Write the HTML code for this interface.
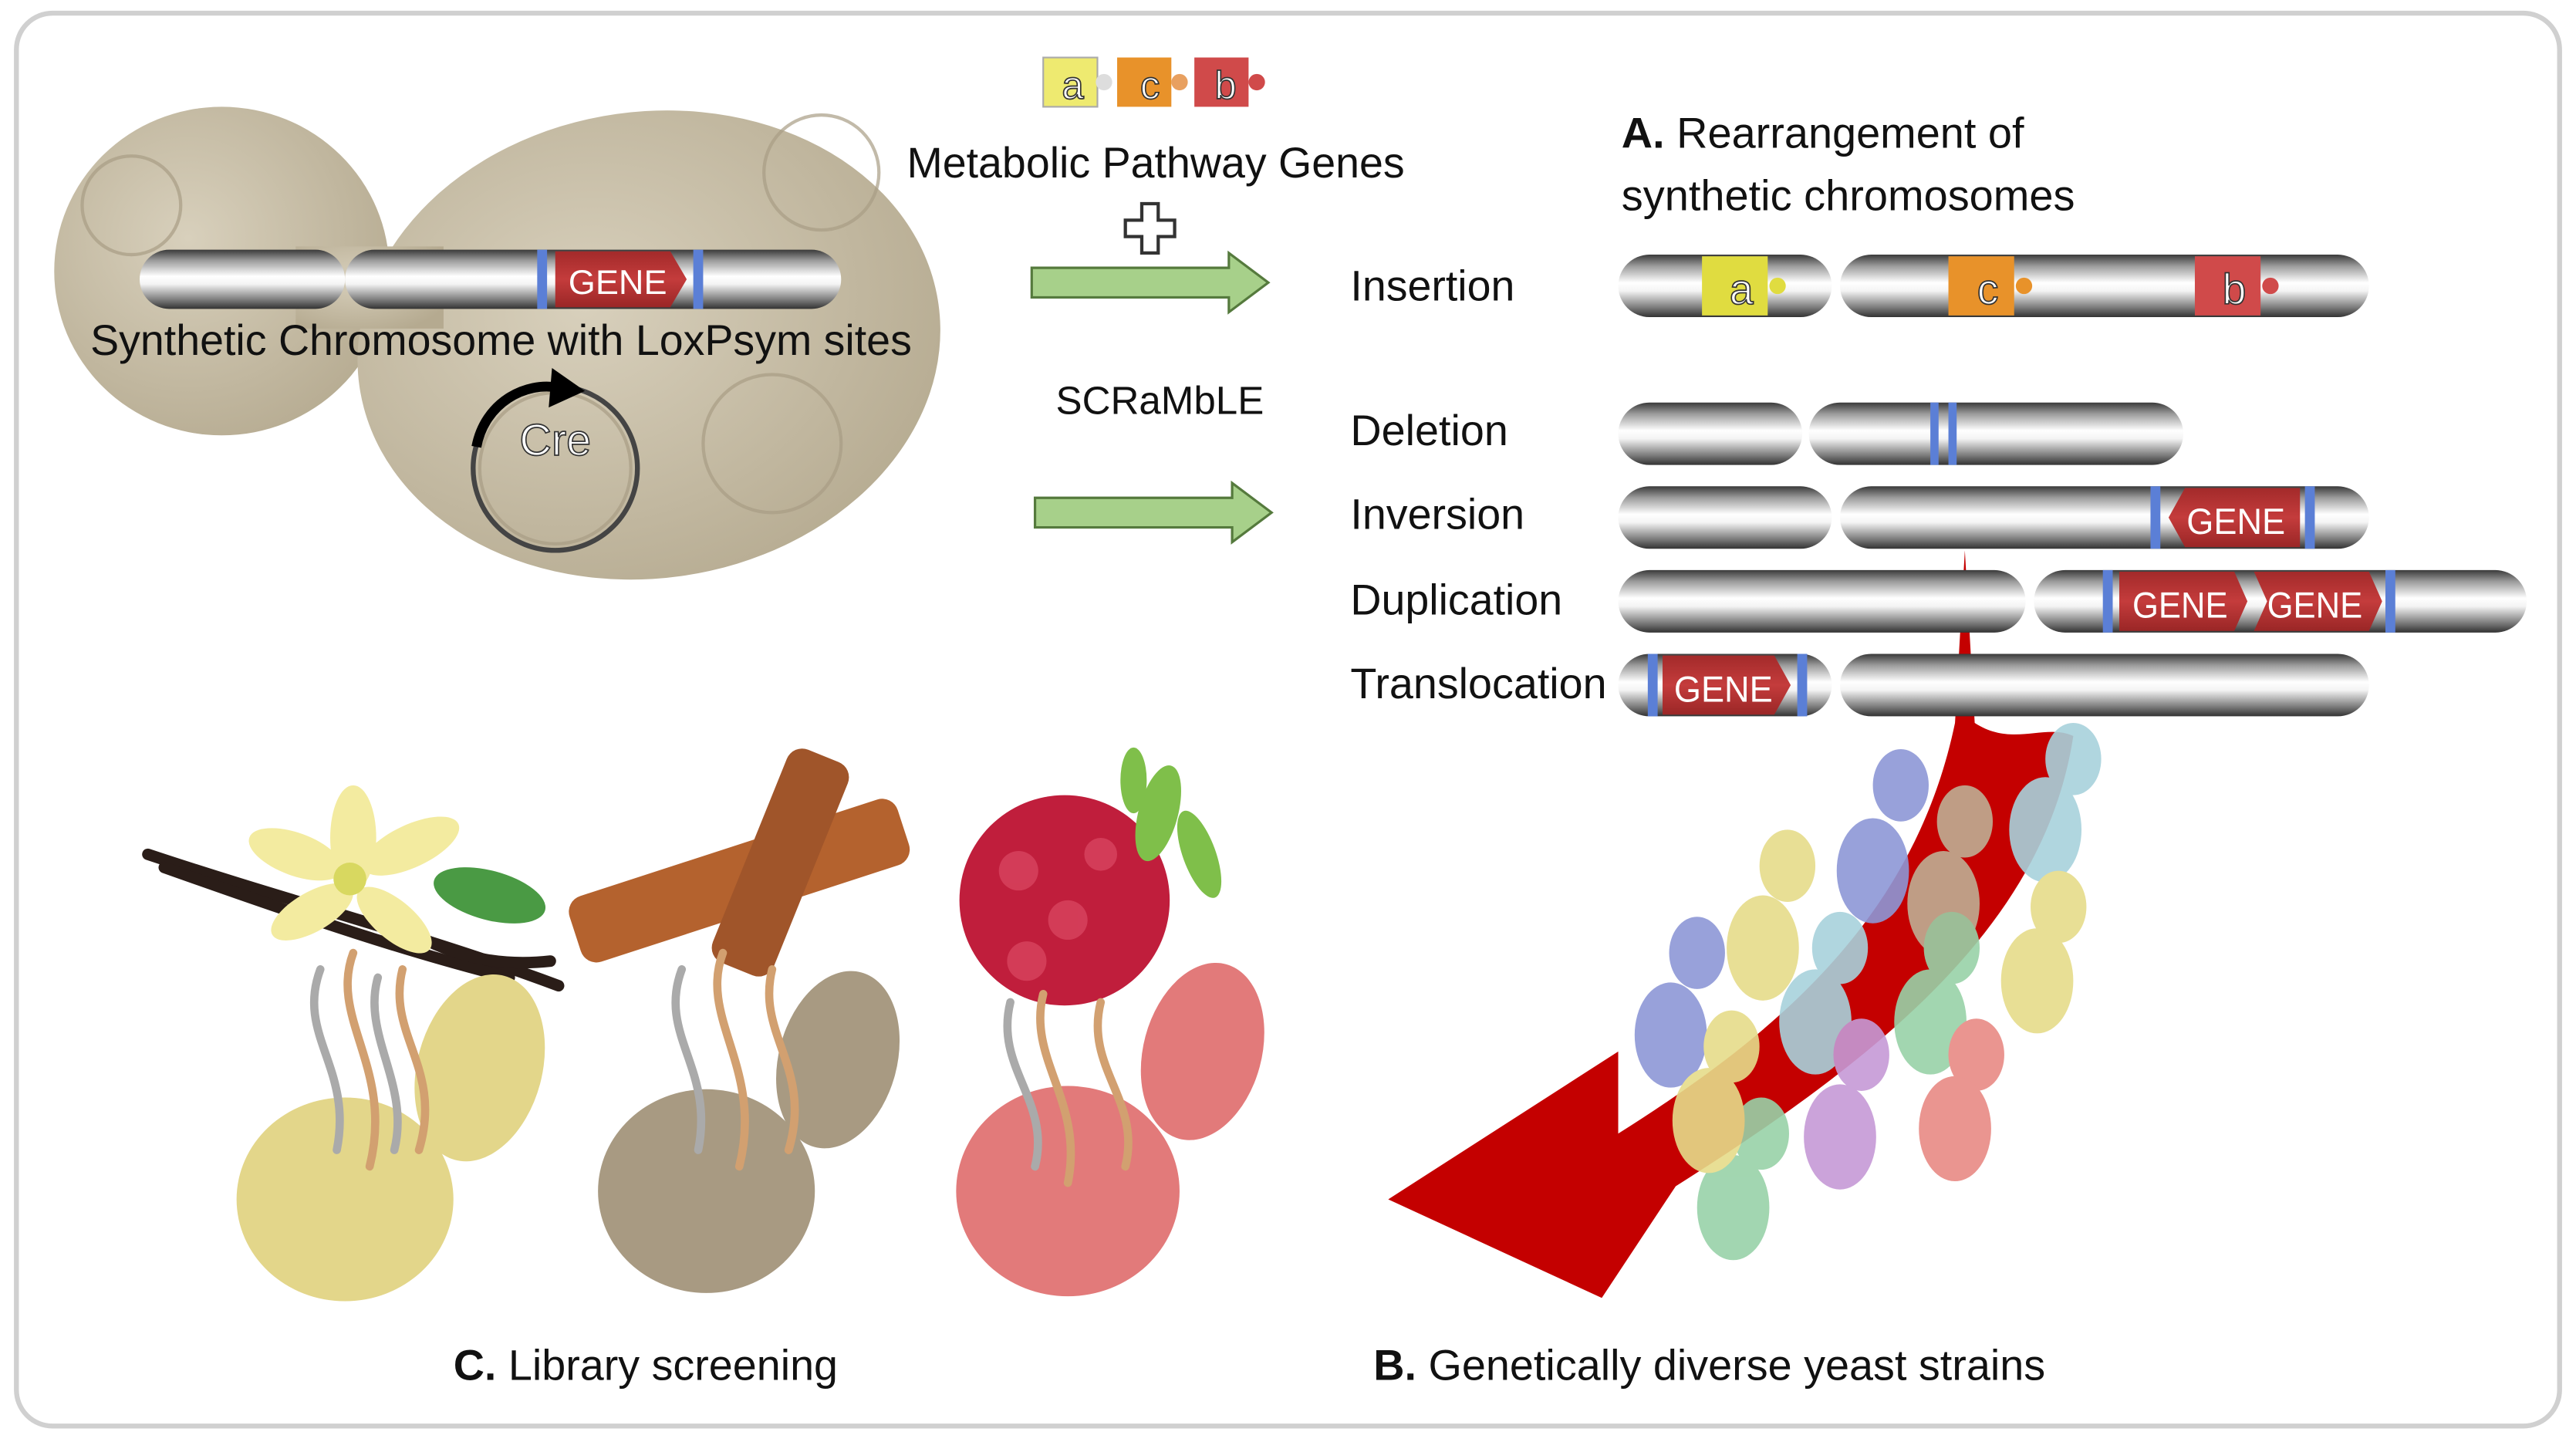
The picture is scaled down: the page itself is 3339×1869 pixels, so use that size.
<!DOCTYPE html>
<html><head><meta charset="utf-8"><style>
html,body{margin:0;padding:0;background:#fff;}
svg{display:block;}
text{font-family:"Liberation Sans",sans-serif;}
</style></head><body>
<svg width="3339" height="1869" viewBox="0 0 1568 877.7" preserveAspectRatio="none" xmlns="http://www.w3.org/2000/svg">
<defs>
<linearGradient id="chr" x1="0" y1="0" x2="0" y2="1">
<stop offset="0" stop-color="#3a3a3a"/><stop offset="0.18" stop-color="#9a9a9a"/>
<stop offset="0.45" stop-color="#ffffff"/><stop offset="0.58" stop-color="#f4f4f4"/>
<stop offset="0.85" stop-color="#7a7a7a"/><stop offset="1" stop-color="#333"/>
</linearGradient>
<linearGradient id="red" x1="0" y1="0" x2="0" y2="1">
<stop offset="0" stop-color="#a32a2a"/><stop offset="0.5" stop-color="#c43c3c"/><stop offset="1" stop-color="#9a2626"/>
</linearGradient>
<radialGradient id="yb" cx="0.4" cy="0.4" r="0.7"><stop offset="0" stop-color="#d8d0bc"/><stop offset="1" stop-color="#b5aa90"/></radialGradient>
</defs>
<rect x="0" y="0" width="1568" height="877.7" fill="#fff"/>
<rect x="10" y="8" width="1548" height="860" rx="22" fill="#fff" stroke="#d0d0d0" stroke-width="3"/>

<g fill="url(#yb)">
<ellipse cx="135" cy="165" rx="102" ry="100"/>
<ellipse cx="395" cy="210" rx="178" ry="142" transform="rotate(-8 395 210)"/>
<rect x="180" y="150" width="90" height="50"/>
</g>
<g fill="none" stroke="#a89d84" stroke-width="2" opacity="0.7">
<circle cx="500" cy="105" r="35"/><circle cx="470" cy="270" r="42"/><circle cx="338" cy="285" r="46"/><circle cx="80" cy="125" r="30"/>
</g>
<rect x="85" y="152" width="125" height="36" rx="18" fill="url(#chr)"/>
<rect x="210" y="152" width="302" height="36" rx="18" fill="url(#chr)"/>
<rect x="327" y="152" width="6" height="36" fill="#5b7fd6"/><rect x="422" y="152" width="6" height="36" fill="#5b7fd6"/>
<polygon points="338,153 408,153 418,170 408,187 338,187" fill="url(#red)"/>
<text x="346" y="179" font-size="21" fill="#fff" textLength="60" lengthAdjust="spacingAndGlyphs">GENE</text>
<text x="55" y="216" font-size="26" fill="#111" textLength="500" lengthAdjust="spacingAndGlyphs">Synthetic Chromosome with LoxPsym sites</text>
<circle cx="338" cy="285" r="50" fill="none" stroke="#444" stroke-width="3"/>
<path d="M290,272 C295,245 320,232 340,236" fill="none" stroke="#000" stroke-width="6"/>
<polygon points="336,224 356,238 334,248" fill="#000"/>
<text x="338" y="277" font-size="27" fill="#fff" stroke="#333" stroke-width="0.8" text-anchor="middle">Cre</text>

<rect x="635" y="35" width="33" height="30" fill="#eeea70" stroke="#aaa"/>
<rect x="680" y="35" width="33" height="30" fill="#e8922a"/>
<rect x="727" y="35" width="33" height="30" fill="#d04a4a"/>
<circle cx="672" cy="50" r="5" fill="#ddd"/><circle cx="718" cy="50" r="5" fill="#e8a060"/><circle cx="765" cy="50" r="5" fill="#d04a4a"/>
<text x="653" y="60" font-size="24" fill="#fff" stroke="#333" stroke-width="0.8" text-anchor="middle">a</text>
<text x="700" y="60" font-size="24" fill="#fff" stroke="#333" stroke-width="0.8" text-anchor="middle">c</text>
<text x="746" y="60" font-size="24" fill="#fff" stroke="#333" stroke-width="0.8" text-anchor="middle">b</text>
<text x="552" y="108" font-size="26" fill="#111" textLength="303" lengthAdjust="spacingAndGlyphs">Metabolic Pathway Genes</text>
<path d="M695,124 h10 v10 h10 v10 h-10 v10 h-10 v-10 h-10 v-10 h10 z" fill="#fff" stroke="#333" stroke-width="2"/>
<text x="706" y="252" font-size="24" fill="#111" text-anchor="middle">SCRaMbLE</text>
<polygon points="628,163 748,163 748,154 772,172 748,190 748,181 628,181" fill="#a7d08a" stroke="#557a3d" stroke-width="1.5"/>
<polygon points="630,303 750,303 750,294 774,312 750,330 750,321 630,321" fill="#a7d08a" stroke="#557a3d" stroke-width="1.5"/>

<text x="987" y="90" font-size="26" fill="#111" textLength="245" lengthAdjust="spacingAndGlyphs"><tspan font-weight="bold">A.</tspan> Rearrangement of</text>
<text x="987" y="128" font-size="26" fill="#111" textLength="276" lengthAdjust="spacingAndGlyphs">synthetic chromosomes</text>
<g font-size="26" fill="#111">
<text x="822" y="183" textLength="100" lengthAdjust="spacingAndGlyphs">Insertion</text>
<text x="822" y="271" textLength="96" lengthAdjust="spacingAndGlyphs">Deletion</text>
<text x="822" y="322" textLength="106" lengthAdjust="spacingAndGlyphs">Inversion</text>
<text x="822" y="374" textLength="129" lengthAdjust="spacingAndGlyphs">Duplication</text>
<text x="822" y="425" textLength="156" lengthAdjust="spacingAndGlyphs">Translocation</text>
</g>

<path d="M1196,335 L1202,440 C1225,455 1245,440 1262,448 C1245,560 1150,640 1020,722 L975,790 L845,730 L985,640 L985,690 C1080,630 1165,560 1190,440 Z" fill="#c40000"/>

<g fill="url(#chr)">
<rect x="985" y="155" width="130" height="38" rx="19"/><rect x="1120" y="155" width="322" height="38" rx="19"/>
<rect x="985" y="245" width="112" height="38" rx="19"/><rect x="1101" y="245" width="228" height="38" rx="19"/>
<rect x="985" y="296" width="130" height="38" rx="19"/><rect x="1120" y="296" width="322" height="38" rx="19"/>
<rect x="985" y="347" width="248" height="38" rx="19"/><rect x="1238" y="347" width="300" height="38" rx="19"/>
<rect x="985" y="398" width="130" height="38" rx="19"/><rect x="1120" y="398" width="322" height="38" rx="19"/>
</g>
<rect x="1036" y="156" width="40" height="36" fill="#e0dc40"/><circle cx="1082" cy="174" r="5" fill="#e0dc40"/>
<rect x="1186" y="156" width="40" height="36" fill="#e8922a"/><circle cx="1232" cy="174" r="5" fill="#e8922a"/>
<rect x="1336" y="156" width="40" height="36" fill="#d04a4a"/><circle cx="1382" cy="174" r="5" fill="#d04a4a"/>
<g font-size="26" fill="#fff" stroke="#333" stroke-width="0.8" text-anchor="middle">
<text x="1060" y="185">a</text><text x="1210" y="185">c</text><text x="1360" y="185">b</text></g>
<g fill="#5b7fd6">
<rect x="1175" y="245" width="5" height="38"/><rect x="1186" y="245" width="5" height="38"/>
<rect x="1309" y="296" width="6" height="38"/><rect x="1403" y="296" width="6" height="38"/>
<rect x="1280" y="347" width="6" height="38"/><rect x="1452" y="347" width="6" height="38"/>
<rect x="1003" y="398" width="6" height="38"/><rect x="1094" y="398" width="6" height="38"/>
</g>
<g fill="url(#red)">
<polygon points="1330,297 1400,297 1400,333 1330,333 1320,315"/>
<polygon points="1290,348 1360,348 1368,366 1360,384 1290,384"/>
<polygon points="1372,348 1442,348 1450,366 1442,384 1372,384 1380,366"/>
<polygon points="1012,399 1080,399 1090,417 1080,435 1012,435"/>
</g>
<g font-size="22" fill="#fff">
<text x="1331" y="325" textLength="60" lengthAdjust="spacingAndGlyphs">GENE</text>
<text x="1298" y="376" textLength="58" lengthAdjust="spacingAndGlyphs">GENE</text>
<text x="1380" y="376" textLength="58" lengthAdjust="spacingAndGlyphs">GENE</text>
<text x="1019" y="427" textLength="60" lengthAdjust="spacingAndGlyphs">GENE</text>
</g>

<g opacity="0.9">
<g fill="#a8d2dc"><ellipse cx="1262" cy="462" rx="17" ry="22"/><ellipse cx="1245" cy="505" rx="22" ry="32"/></g>
<g fill="#8d97d6"><ellipse cx="1157" cy="478" rx="17" ry="22"/><ellipse cx="1140" cy="530" rx="22" ry="32"/></g>
<g fill="#bfae94"><ellipse cx="1196" cy="500" rx="17" ry="22"/><ellipse cx="1183" cy="550" rx="22" ry="32"/></g>
<g fill="#e6dc8a"><ellipse cx="1088" cy="527" rx="17" ry="22"/><ellipse cx="1073" cy="577" rx="22" ry="32"/></g>
<g fill="#e6dc8a"><ellipse cx="1253" cy="552" rx="17" ry="22"/><ellipse cx="1240" cy="597" rx="22" ry="32"/></g>
<g fill="#8d97d6"><ellipse cx="1033" cy="580" rx="17" ry="22"/><ellipse cx="1017" cy="630" rx="22" ry="32"/></g>
<g fill="#a8d2dc"><ellipse cx="1120" cy="577" rx="17" ry="22"/><ellipse cx="1105" cy="622" rx="22" ry="32"/></g>
<g fill="#98d2a8"><ellipse cx="1188" cy="577" rx="17" ry="22"/><ellipse cx="1175" cy="622" rx="22" ry="32"/></g>
<g fill="#98d2a8"><ellipse cx="1072" cy="690" rx="17" ry="22"/><ellipse cx="1055" cy="735" rx="22" ry="32"/></g>
<g fill="#e6dc8a"><ellipse cx="1054" cy="637" rx="17" ry="22"/><ellipse cx="1040" cy="682" rx="22" ry="32"/></g>
<g fill="#c69ad6"><ellipse cx="1133" cy="642" rx="17" ry="22"/><ellipse cx="1120" cy="692" rx="22" ry="32"/></g>
<g fill="#e88a84"><ellipse cx="1203" cy="642" rx="17" ry="22"/><ellipse cx="1190" cy="687" rx="22" ry="32"/></g>
</g>

<g stroke="#2a1d18" stroke-width="7" stroke-linecap="round" fill="none">
<path d="M90,520 C180,550 260,570 340,600"/><path d="M100,528 C190,560 250,580 310,595"/><path d="M230,555 C260,575 290,590 335,585"/>
</g>
<ellipse cx="298" cy="545" rx="35" ry="15" fill="#4a9a44" transform="rotate(15 298 545)"/>
<g fill="#f3eba0">
<ellipse cx="215" cy="510" rx="14" ry="32"/><ellipse cx="180" cy="520" rx="30" ry="13" transform="rotate(20 180 520)"/>
<ellipse cx="250" cy="515" rx="32" ry="13" transform="rotate(-25 250 515)"/><ellipse cx="190" cy="555" rx="28" ry="12" transform="rotate(-30 190 555)"/>
<ellipse cx="240" cy="560" rx="28" ry="12" transform="rotate(40 240 560)"/></g>
<circle cx="213" cy="535" r="10" fill="#d8d860"/>
<g fill="#b4622e">
<rect x="345" y="515" width="210" height="42" rx="10" transform="rotate(-18 450 536)"/>
<rect x="455" y="455" width="40" height="140" rx="10" transform="rotate(22 475 525)" fill="#a0552a"/>
</g>
<circle cx="648" cy="548" r="64" fill="#c01e3c"/>
<g fill="#e0506a" opacity="0.6"><circle cx="620" cy="530" r="12"/><circle cx="650" cy="560" r="12"/><circle cx="625" cy="585" r="12"/><circle cx="670" cy="520" r="10"/></g>
<g fill="#7fbf4a"><ellipse cx="705" cy="495" rx="12" ry="30" transform="rotate(15 705 495)"/><ellipse cx="730" cy="520" rx="10" ry="28" transform="rotate(-20 730 520)"/><ellipse cx="690" cy="475" rx="8" ry="20"/></g>

<g fill="#e3d68a"><ellipse cx="292" cy="650" rx="38" ry="58" transform="rotate(15 292 650)"/><ellipse cx="210" cy="730" rx="66" ry="62"/></g>
<g fill="#a89a82"><ellipse cx="510" cy="645" rx="36" ry="55" transform="rotate(15 510 645)"/><ellipse cx="430" cy="725" rx="66" ry="62"/></g>
<g fill="#e27a7a"><ellipse cx="732" cy="640" rx="36" ry="55" transform="rotate(15 732 640)"/><ellipse cx="650" cy="725" rx="68" ry="64"/></g>
<g fill="none" stroke-width="5" stroke-linecap="round">
<path d="M195,590 C180,630 215,650 205,700" stroke="#aaa"/><path d="M215,580 C200,620 240,650 225,710" stroke="#d2a070"/>
<path d="M245,590 C235,630 270,650 255,700" stroke="#d2a070"/><path d="M230,595 C220,630 250,660 240,700" stroke="#aaa"/>
<path d="M415,590 C400,630 435,650 425,700" stroke="#aaa"/><path d="M440,580 C425,620 465,650 450,710" stroke="#d2a070"/>
<path d="M470,590 C460,630 495,650 480,700" stroke="#d2a070"/>
<path d="M615,610 C605,650 640,670 630,710" stroke="#aaa"/><path d="M635,605 C625,645 660,670 650,720" stroke="#d2a070"/>
<path d="M670,610 C660,650 695,670 685,710" stroke="#d2a070"/>
</g>

<text x="276" y="840" font-size="26" fill="#111" textLength="234" lengthAdjust="spacingAndGlyphs"><tspan font-weight="bold">C.</tspan> Library screening</text>
<text x="836" y="840" font-size="26" fill="#111" textLength="409" lengthAdjust="spacingAndGlyphs"><tspan font-weight="bold">B.</tspan> Genetically diverse yeast strains</text>
</svg>
</body></html>
